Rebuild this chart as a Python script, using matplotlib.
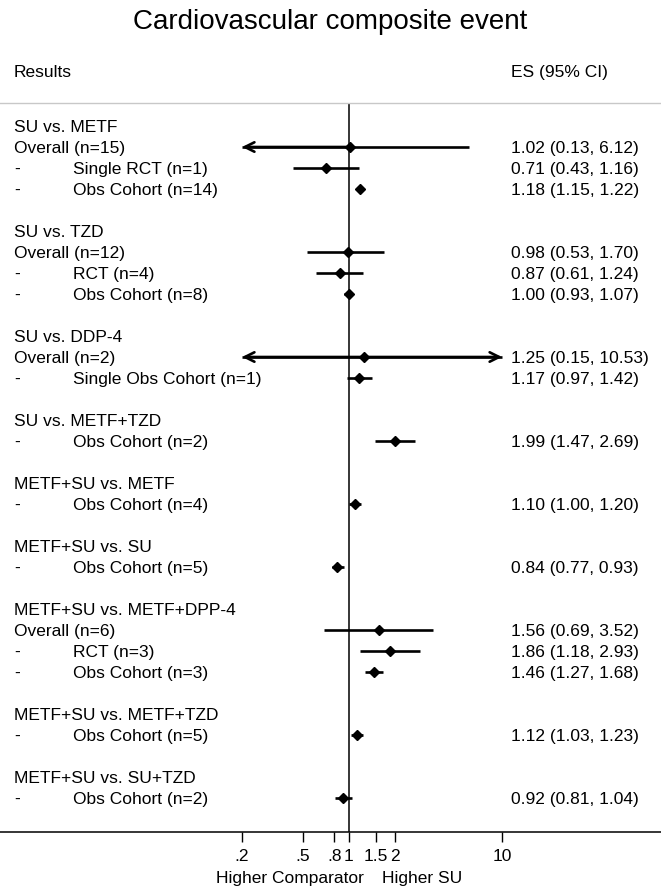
"""Forest plot: cardiovascular composite event, SU vs. comparators."""

import matplotlib

matplotlib.use("Agg")
import matplotlib.pyplot as plt
from matplotlib.ticker import FixedLocator, NullLocator

plt.rcParams["font.family"] = ["Liberation Sans", "DejaVu Sans"]

# Rows top to bottom. kind: head = comparison title, overall = pooled row,
# sub = subgroup row (drawn with a leading dash), "" = spacer.
row_labels = [
    "SU vs. METF", "Overall (n=15)", "Single RCT (n=1)", "Obs Cohort (n=14)", "",
    "SU vs. TZD", "Overall (n=12)", "RCT (n=4)", "Obs Cohort (n=8)", "",
    "SU vs. DDP-4", "Overall (n=2)", "Single Obs Cohort (n=1)", "",
    "SU vs. METF+TZD", "Obs Cohort (n=2)", "",
    "METF+SU vs. METF", "Obs Cohort (n=4)", "",
    "METF+SU vs. SU", "Obs Cohort (n=5)", "",
    "METF+SU vs. METF+DPP-4", "Overall (n=6)", "RCT (n=3)", "Obs Cohort (n=3)", "",
    "METF+SU vs. METF+TZD", "Obs Cohort (n=5)", "",
    "METF+SU vs. SU+TZD", "Obs Cohort (n=2)",
]
row_kind = [
    "head", "overall", "sub", "sub", "",
    "head", "overall", "sub", "sub", "",
    "head", "overall", "sub", "",
    "head", "sub", "",
    "head", "sub", "",
    "head", "sub", "",
    "head", "overall", "sub", "sub", "",
    "head", "sub", "",
    "head", "sub",
]

# one value per estimate row (overall + sub rows, in order)
es = [1.02, 0.71, 1.18, 0.98, 0.87, 1.00, 1.25, 1.17, 1.99, 1.10, 0.84,
      1.56, 1.86, 1.46, 1.12, 0.92]
ci_lo = [0.13, 0.43, 1.15, 0.53, 0.61, 0.93, 0.15, 0.97, 1.47, 1.00, 0.77,
         0.69, 1.18, 1.27, 1.03, 0.81]
ci_hi = [6.12, 1.16, 1.22, 1.70, 1.24, 1.07, 10.53, 1.42, 2.69, 1.20, 0.93,
         3.52, 2.93, 1.68, 1.23, 1.04]

tick_values = [0.2, 0.5, 0.8, 1, 1.5, 2, 10]
tick_labels = [".2", ".5", ".8", "1", "1.5", "2", "10"]
x_range = (0.2, 10)

W, H = 661, 890
fig = plt.figure(figsize=(W / 100, H / 100), dpi=100)
top_px, bot_px = 103, 832
ax = fig.add_axes([0, 1 - bot_px / H, 1, (bot_px - top_px) / H])

# log axis spanning the whole width; 1 sits at x=349 px, 66.46 px per ln unit
ax.set_xscale("log")
ax.set_xlim(2.718281828 ** (-349 / 66.46), 2.718281828 ** ((W - 349) / 66.46))
row0_px, row_step = 126, 21
ax.set_ylim((bot_px - row0_px) / row_step, (top_px - row0_px) / row_step)

ax.spines["left"].set_visible(False)
ax.spines["right"].set_visible(False)
ax.spines["top"].set_color("#c8c8c8")
ax.spines["top"].set_linewidth(1.0)
ax.spines["bottom"].set_linewidth(1.1)
ax.set_yticks([])
ax.xaxis.set_major_locator(FixedLocator(tick_values))
ax.xaxis.set_minor_locator(NullLocator())
ax.set_xticklabels(tick_labels)
ax.tick_params(axis="x", direction="out", length=7, width=1.0, pad=5,
               labelsize=12.5)

ax.axvline(1, color="black", lw=1.1, zorder=1)

tr = ax.get_yaxis_transform()
va = "center_baseline"
est_i = 0
for i, (label, kind) in enumerate(zip(row_labels, row_kind)):
    if kind == "head" or kind == "overall":
        ax.text(14 / W, i, label, transform=tr, ha="left", va=va,
                fontsize=12.5)
    elif kind == "sub":
        ax.text(14 / W, i, "-", transform=tr, ha="left", va=va,
                fontsize=12.5)
        ax.text(73 / W, i, label, transform=tr, ha="left", va=va,
                fontsize=12.5)
    if kind not in ("overall", "sub"):
        continue

    e, lo, hi = es[est_i], ci_lo[est_i], ci_hi[est_i]
    est_i += 1
    ax.text(511 / W, i, f"{e:.2f} ({lo:.2f}, {hi:.2f})", transform=tr,
            ha="left", va=va, fontsize=12.5)

    lo_c, hi_c = max(lo, x_range[0]), min(hi, x_range[1])
    ax.plot([lo_c, hi_c], [i, i], color="black", lw=1.9,
            solid_capstyle="butt", zorder=2)
    for end, clipped in ((x_range[0], lo < x_range[0]),
                         (x_range[1], hi > x_range[1])):
        if clipped:
            ax.annotate("", xy=(end, i), xytext=(e, i),
                        arrowprops=dict(arrowstyle="->", lw=1.9,
                                        mutation_scale=17, shrinkA=0,
                                        shrinkB=0, color="black"))
    ax.plot([e], [i], marker="D", markersize=5, color="black", zorder=3)

fig.text(0.5, 1 - 19 / H, "Cardiovascular composite event", ha="center",
         va=va, fontsize=20)
fig.text(14 / W, 1 - 71 / H, "Results", ha="left", va=va, fontsize=12.5)
fig.text(511 / W, 1 - 71 / H, "ES (95% CI)", ha="left", va=va,
         fontsize=12.5)
fig.text(290 / W, 1 - 877 / H, "Higher Comparator", ha="center", va=va,
         fontsize=12.5)
fig.text(422 / W, 1 - 877 / H, "Higher SU", ha="center", va=va,
         fontsize=12.5)

fig.savefig("out.png", dpi=100)
